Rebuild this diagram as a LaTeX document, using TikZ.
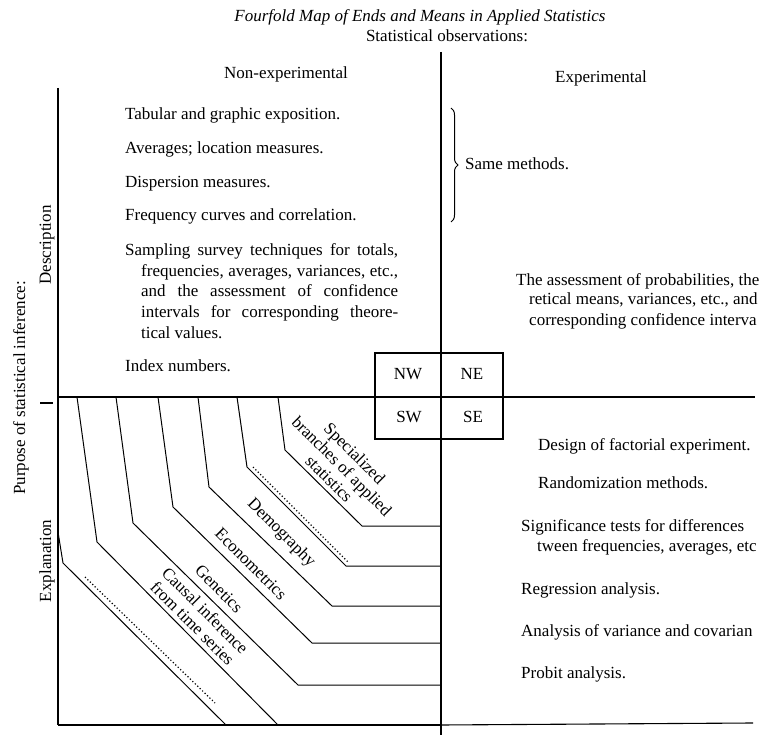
\documentclass[tikz,border=0pt]{standalone}
\usepackage{fontspec}
\setmainfont{Liberation Serif}
\usetikzlibrary{decorations.pathreplacing}
\begin{document}
\begin{tikzpicture}[x=1pt,y=-1pt,
  txt/.style={font=\fontsize{17}{17}\selectfont, inner sep=0pt, text height=11.5pt, text depth=3.5pt},
  lft/.style={txt, anchor=west},
  lab/.style={font=\fontsize{17}{18}\selectfont, inner sep=0pt, align=center, rotate=-45},
  rot/.style={font=\fontsize{17}{17}\selectfont, inner sep=0pt, rotate=90},
  rule/.style={line width=1.1pt},
  band/.style={line width=1pt, line join=miter},
  dotline/.style={line width=1.2pt, dash pattern=on 1.2pt off 2.2pt}]
\useasboundingbox (0,0) rectangle (780,735);

% headings
\node[txt, font=\fontsize{17}{17}\selectfont\itshape] (title) at (420,18) {Fourfold Map of Ends and Means in Applied Statistics};
\node[txt] (obs) at (447,38) {Statistical observations:};
\node[txt] (nonexp) at (286,75) {Non-experimental};
\node[txt] (exp) at (601,79) {Experimental};

% side labels
\node[rot] (purpose) at (21,388) {Purpose of statistical inference:};
\node[rot] (descr) at (47,245) {Description};
\node[rot] (expl) at (47,561) {Explanation};

% frame lines
\coordinate (vtop) at (441,52);
\coordinate (vbot) at (441,735);
\coordinate (ltop) at (58,88);
\coordinate (lbot) at (58,725);
\coordinate (hl) at (58,397);
\coordinate (hr) at (755,397);
\coordinate (bl) at (58,725);
\coordinate (bm) at (441,725);
\coordinate (br) at (753,723);
\draw[rule] (vtop) -- (vbot);
\draw[rule] (ltop) -- (lbot);
\draw[rule] (hl) -- (hr);
\draw[rule] (bl) -- (bm);
\draw[rule] (bm) -- (br);
\coordinate (tk1) at (40,403);
\coordinate (tk2) at (53,403);
\draw[rule] (tk1) -- (tk2);

% central box
\coordinate (bx1) at (375,353);
\coordinate (bx2) at (503,439);
\draw[rule] (bx1) rectangle (bx2);
\node[txt] (nw) at (408,376) {NW};
\node[txt] (ne) at (472,376) {NE};
\node[txt] (sw) at (409,419) {SW};
\node[txt] (se) at (473,419) {SE};

% NW quadrant
\node[lft] (n1) at (125,116) {Tabular and graphic exposition.};
\node[lft] (n2) at (125,150) {Averages; location measures.};
\node[lft] (n3) at (125,184) {Dispersion measures.};
\node[lft] (n4) at (125,217) {Frequency curves and correlation.};
\node[lft] (n5a) at (125,252) {\makebox[273pt][s]{Sampling survey techniques for totals,}};
\node[lft] (n5b) at (141,273) {\makebox[257pt][s]{frequencies, averages, variances, etc.,}};
\node[lft] (n5c) at (141,293) {\makebox[257pt][s]{and the assessment of confidence}};
\node[lft] (n5d) at (141,314) {\makebox[257pt][s]{intervals for corresponding theore-}};
\node[lft] (n5e) at (141,335) {tical values.};
\node[lft] (n6) at (125,368) {Index numbers.};

% NE quadrant
\coordinate (br1) at (451,108);
\coordinate (br2) at (451,222);
\draw[line width=1pt, decorate, decoration={brace, amplitude=7pt}] (br1) -- (br2);
\node[lft] (same) at (465,166) {Same methods.};
\node[lft] (e1) at (516,282) {The assessment of probabilities, the};
\node[lft] (e2) at (529,301) {retical means, variances, etc., and};
\node[lft] (e3) at (529,322) {corresponding confidence interva};

% SE quadrant
\node[lft] (s1) at (538,447) {Design of factorial experiment.};
\node[lft] (s2) at (538,485) {Randomization methods.};
\node[lft] (s3) at (521,527) {Significance tests for differences};
\node[lft] (s4) at (537,547) {tween frequencies, averages, etc};
\node[lft] (s5) at (521,590) {Regression analysis.};
\node[lft] (s6) at (521,632) {Analysis of variance and covarian};
\node[lft] (s7) at (521,674) {Probit analysis.};

% SW quadrant bands
\draw[band] (58,532) -- (63,563) -- (226,725);
\draw[band] (77,397) -- (97,542) -- (278,725);
\draw[band] (116,397) -- (133,523) -- (298,685) -- (441,685);
\draw[band] (158,397) -- (173,507) -- (312,643) -- (441,643);
\draw[band] (198,397) -- (209,487) -- (332,606) -- (441,606);
\draw[band] (237,397) -- (247,467) -- (346,566) -- (441,566);
\draw[band] (278,397) -- (285,450) -- (362,526) -- (441,526);
\draw[dotline] (85,577) -- (215,703);
\draw[dotline] (253,467) -- (348,562);

\node[lab] (spec) at (342,466) {Specialized\\branches of applied\\statistics};
\node[lab] (demo) at (281,533) {Demography};
\node[lab] (econ) at (251,564) {Econometrics};
\node[lab] (gene) at (219,589) {Genetics};
\node[lab] (caus) at (199,617) {Causal inference\\from time series};
\end{tikzpicture}
\end{document}
